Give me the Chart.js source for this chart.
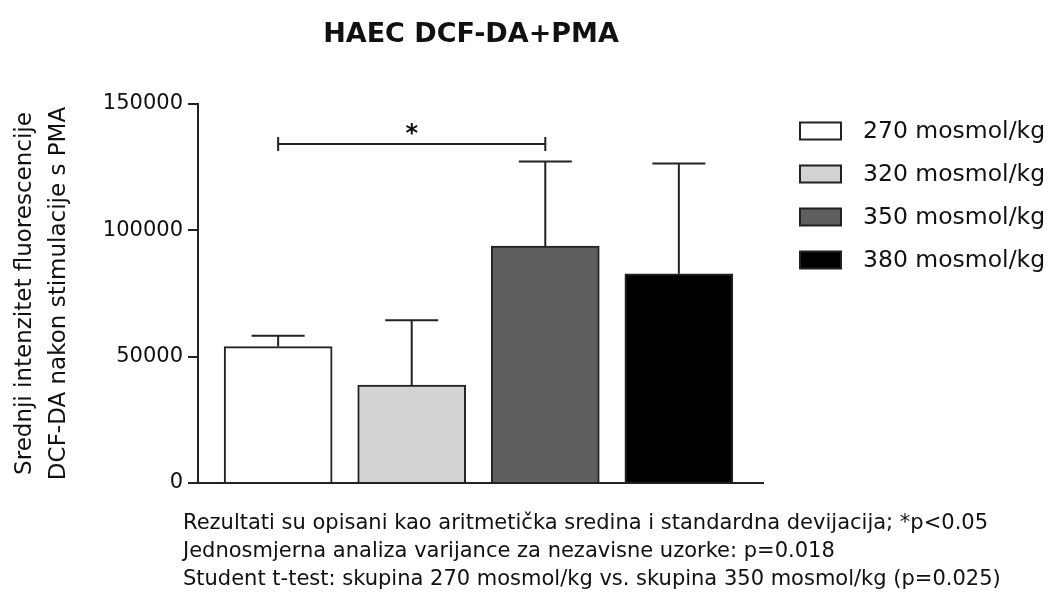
<!DOCTYPE html>
<html lang="hr">
<head>
    <meta charset="UTF-8">
    <title>HAEC DCF-DA+PMA</title>
    <script src="https://cdn.jsdelivr.net/npm/chart.js"></script>
    <style>
        body { margin: 0; background: #fff; }
        .container { width: 1051px; height: 594px; position: relative; }
    </style>
</head>
<body>
    <div class="container">
        <canvas id="haecChart"></canvas>
    </div>

    <script>
        const groups = ['270 mosmol/kg', '320 mosmol/kg', '350 mosmol/kg', '380 mosmol/kg'];
        const means = [54000, 38800, 93800, 82800];
        const sds = [4300, 25600, 33400, 43700];
        const barColors = ['#ffffff', '#d3d3d3', '#5e5e5e', '#000000'];
        const yTicks = [0, 50000, 100000, 150000];

        // significance bracket: 270 vs 350
        const sigFrom = 0;
        const sigTo = 2;
        const sigLevel = 134200;
        const sigMark = '*';

        const titleText = 'HAEC DCF-DA+PMA';
        const yTitle = ['Srednji intenzitet fluorescencije', 'DCF-DA nakon stimulacije s PMA'];
        const notes = [
            'Rezultati su opisani kao aritmetička sredina i standardna devijacija; *p<0.05',
            'Jednosmjerna analiza varijance za nezavisne uzorke: p=0.018',
            'Student t-test: skupina 270 mosmol/kg vs. skupina 350 mosmol/kg (p=0.025)'
        ];

        const ink = '#222222';
        const fontFamily = '"DejaVu Sans", sans-serif';

        // error bars (upper only) + bracket
        const extrasPlugin = {
            id: 'extras',
            afterDatasetsDraw(chart) {
                const ctx = chart.ctx;
                const x = chart.scales.x;
                const y = chart.scales.y;
                ctx.save();
                ctx.strokeStyle = ink;
                ctx.lineWidth = 2;
                means.forEach((m, i) => {
                    const px = x.getPixelForValue(i);
                    const yBar = y.getPixelForValue(m);
                    const yTop = y.getPixelForValue(m + sds[i]);
                    ctx.beginPath();
                    ctx.moveTo(px, yBar);
                    ctx.lineTo(px, yTop);
                    ctx.moveTo(px - 26.5, yTop);
                    ctx.lineTo(px + 26.5, yTop);
                    ctx.stroke();
                });

                const x1 = x.getPixelForValue(sigFrom);
                const x2 = x.getPixelForValue(sigTo);
                const yb = y.getPixelForValue(sigLevel);
                ctx.beginPath();
                ctx.moveTo(x1, yb);
                ctx.lineTo(x2, yb);
                ctx.moveTo(x1, yb - 7);
                ctx.lineTo(x1, yb + 7);
                ctx.moveTo(x2, yb - 7);
                ctx.lineTo(x2, yb + 7);
                ctx.stroke();

                ctx.fillStyle = '#111';
                ctx.font = 'bold 24px ' + fontFamily;
                ctx.textAlign = 'center';
                ctx.textBaseline = 'alphabetic';
                ctx.fillText(sigMark, (x1 + x2) / 2, yb - 3);
                ctx.restore();
            },
            afterDraw(chart) {
                const ctx = chart.ctx;
                ctx.save();
                ctx.fillStyle = '#111';

                // title
                ctx.font = 'bold 27px ' + fontFamily;
                ctx.textAlign = 'center';
                ctx.textBaseline = 'alphabetic';
                ctx.fillText(titleText, 471, 42);

                // legend
                ctx.font = '23.5px ' + fontFamily;
                ctx.textAlign = 'left';
                ctx.textBaseline = 'middle';
                groups.forEach((g, i) => {
                    const cy = 131 + i * 43;
                    ctx.fillStyle = barColors[i];
                    ctx.fillRect(800, cy - 8.5, 41, 17);
                    ctx.strokeStyle = ink;
                    ctx.lineWidth = 2;
                    ctx.strokeRect(800, cy - 8.5, 41, 17);
                    ctx.fillStyle = '#111';
                    ctx.fillText(g, 863, cy + 1);
                });

                // footnote
                ctx.font = '21px ' + fontFamily;
                ctx.textBaseline = 'alphabetic';
                notes.forEach((line, i) => {
                    ctx.fillText(line, 183, 529 + i * 28);
                });
                ctx.restore();
            }
        };

        const ctx = document.getElementById('haecChart').getContext('2d');
        new Chart(ctx, {
            type: 'bar',
            data: {
                datasets: [{
                    label: 'HAEC',
                    data: means.map((m, i) => ({ x: i, y: m })),
                    backgroundColor: barColors,
                    borderColor: ink,
                    borderWidth: 2,
                    barThickness: 108
                }]
            },
            options: {
                responsive: true,
                maintainAspectRatio: false,
                animation: false,
                layout: { padding: { top: 104, bottom: 111, left: 0, right: 288 } },
                plugins: {
                    legend: { display: false },
                    title: { display: false },
                    tooltip: { enabled: false }
                },
                scales: {
                    x: {
                        type: 'linear',
                        min: -0.6,
                        max: 3.63,
                        offset: false,
                        ticks: { display: false },
                        grid: { display: false, drawTicks: false },
                        border: { display: true, color: ink, width: 2 }
                    },
                    y: {
                        min: 0,
                        max: 150000,
                        afterBuildTicks: (scale) => {
                            scale.ticks = yTicks.map(v => ({ value: v }));
                        },
                        afterFit: (scale) => { scale.width = 198; },
                        ticks: {
                            color: '#111',
                            padding: 5,
                            font: { family: fontFamily, size: 21 },
                            callback: (v) => String(v)
                        },
                        grid: {
                            drawOnChartArea: false,
                            drawTicks: true,
                            tickLength: 10,
                            color: ink,
                            lineWidth: 2
                        },
                        border: { display: true, color: ink, width: 2 },
                        title: {
                            display: true,
                            text: yTitle,
                            color: '#111',
                            padding: { top: 8, bottom: 0 },
                            font: { family: fontFamily, size: 23, lineHeight: 1.48 }
                        }
                    }
                }
            },
            plugins: [extrasPlugin]
        });
    </script>
</body>
</html>
